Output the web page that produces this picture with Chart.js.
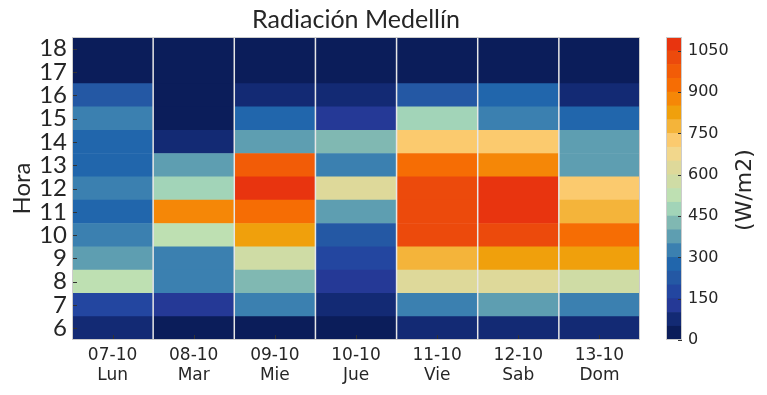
<!DOCTYPE html>
<html>
<head>
<meta charset="utf-8">
<script src="https://cdn.jsdelivr.net/npm/chart.js@4/dist/chart.umd.min.js"></script>
<style>
  body { margin: 0; background: #fff; }
  #wrap { position: relative; width: 767px; height: 395px; }
  #heat { position: absolute; left: 0; top: 0; }
  #cbar { position: absolute; left: 640px; top: 0; }
</style>
</head>
<body>
<div id="wrap">
  <canvas id="heat" width="712" height="395"></canvas>
  <canvas id="cbar" width="127" height="395"></canvas>
</div>
<script>
// hours on the y axis
var hours = [6, 7, 8, 9, 10, 11, 12, 13, 14, 15, 16, 17, 18];
// days on the x axis
var dates = ['07-10', '08-10', '09-10', '10-10', '11-10', '12-10', '13-10'];
var weekdays = ['Lun', 'Mar', 'Mie', 'Jue', 'Vie', 'Sab', 'Dom'];

// radiation (W/m2) per hour, 6h..18h
var lun = [75, 175, 525, 375, 325, 275, 325, 275, 275, 325, 225, 25, 25];
var mar = [25, 125, 325, 325, 525, 875, 475, 375, 75, 25, 25, 25, 25];
var mie = [25, 325, 425, 575, 825, 925, 1075, 975, 375, 275, 75, 25, 25];
var jue = [25, 75, 125, 175, 225, 375, 625, 325, 425, 125, 75, 25, 25];
var vie = [75, 325, 625, 775, 1025, 1025, 1025, 925, 725, 475, 225, 25, 25];
var sab = [75, 375, 625, 825, 1025, 1075, 1075, 875, 725, 325, 275, 25, 25];
var dom = [75, 325, 575, 825, 925, 775, 725, 375, 375, 275, 75, 25, 25];
var days = [lun, mar, mie, jue, vie, sab, dom];

// colorbar levels, every 50 W/m2
var levels = [0, 50, 100, 150, 200, 250, 300, 350, 400, 450, 500, 550,
              600, 650, 700, 750, 800, 850, 900, 950, 1000, 1050, 1100];
var bandColors = ['#0b1d5a', '#132a74', '#253996', '#2346a0', '#2458a4', '#2166ac',
                  '#3b80b0', '#5e9eb1', '#80b8b2', '#a2d4b8', '#bee0b2', '#cfdca5',
                  '#ded99a', '#f2d78c', '#fbca6e', '#f4b43a', '#f0a00c', '#f58707',
                  '#f66d04', '#f25c07', '#ec4a0c', '#e8340f'];
var cbTicks = [0, 150, 300, 450, 600, 750, 900, 1050];

var title = 'Radiación Medellín';
var txt = '#262626';
var lato = 'Lato, sans-serif';
var dejavu = '"DejaVu Sans", sans-serif';

function colorFor(v) {
  for (var i = levels.length - 2; i >= 0; i--) {
    if (v >= levels[i]) return bandColors[i];
  }
  return bandColors[0];
}

// separators, frame, inward tick marks and a title centred over the plot
var heatDeco = {
  id: 'heatDeco',
  afterDatasetsDraw: function(chart) {
    var c = chart.ctx, a = chart.chartArea;
    var x = chart.scales.x, y = chart.scales.y;
    c.save();
    c.strokeStyle = '#e6e6e6';
    c.lineWidth = 1.5;
    c.beginPath();
    for (var i = 1; i < dates.length; i++) {
      var gx = (x.getPixelForValue(i - 1) + x.getPixelForValue(i)) / 2;
      c.moveTo(gx, a.top);
      c.lineTo(gx, a.bottom);
    }
    c.stroke();
    c.strokeStyle = '#333';
    c.lineWidth = 1;
    c.beginPath();
    dates.forEach(function(d, i) {
      var px = Math.round(x.getPixelForValue(i)) + 0.5;
      c.moveTo(px, a.bottom);
      c.lineTo(px, a.bottom - 5);
    });
    hours.forEach(function(h) {
      var py = Math.round(y.getPixelForValue(h)) + 0.5;
      c.moveTo(a.left, py);
      c.lineTo(a.left + 5, py);
    });
    c.stroke();
    c.strokeStyle = '#cccccc';
    c.strokeRect(a.left + 0.5, a.top + 0.5, a.right - a.left - 1, a.bottom - a.top - 1);
    c.fillStyle = txt;
    c.font = '25px ' + lato;
    c.textAlign = 'center';
    c.textBaseline = 'middle';
    c.fillText(title, (a.left + a.right) / 2, 20);
    c.restore();
  }
};

var heatSets = hours.map(function(h, i) {
  return {
    label: String(h),
    data: days.map(function() { return [h - 0.5, h + 0.5]; }),
    backgroundColor: days.map(function(d) { return colorFor(d[i]); }),
    borderWidth: 0,
    grouped: false,
    barPercentage: 1,
    categoryPercentage: 1
  };
});

new Chart(document.getElementById('heat'), {
  type: 'bar',
  data: {
    labels: dates.map(function(d, i) { return [d, weekdays[i]]; }),
    datasets: heatSets
  },
  options: {
    responsive: false,
    animation: false,
    layout: { padding: { top: 37, right: 72, left: 0, bottom: 0 } },
    plugins: {
      legend: { display: false },
      tooltip: { enabled: false },
      title: { display: false }
    },
    scales: {
      x: {
        grid: { display: false, drawTicks: false },
        border: { display: false },
        ticks: { color: txt, font: { family: dejavu, size: 17, lineHeight: 1.2 }, padding: 5, maxRotation: 0 },
        afterFit: function(s) { s.height = 55; }
      },
      y: {
        min: 5.5,
        max: 18.5,
        grid: { display: false, drawTicks: false },
        border: { display: false },
        afterBuildTicks: function(s) {
          s.ticks = hours.map(function(h) { return { value: h }; });
        },
        ticks: { color: txt, font: { family: lato, size: 24, lineHeight: 1 }, padding: 5, autoSkip: false },
        title: {
          display: true,
          text: 'Hora',
          color: txt,
          font: { family: lato, size: 24 },
          padding: { top: 8, bottom: 0 }
        },
        afterFit: function(s) { s.width = 72; }
      }
    }
  },
  plugins: [heatDeco]
});

// colorbar
var cbDeco = {
  id: 'cbDeco',
  afterDraw: function(chart) {
    var c = chart.ctx, a = chart.chartArea, y = chart.scales.y;
    c.save();
    c.strokeStyle = '#333';
    c.lineWidth = 1;
    c.beginPath();
    cbTicks.forEach(function(t) {
      var py = Math.round(y.getPixelForValue(t)) + 0.5;
      c.moveTo(a.right, py);
      c.lineTo(a.right - 4, py);
    });
    c.stroke();
    c.strokeStyle = '#cccccc';
    c.strokeRect(a.left + 0.5, a.top + 0.5, a.right - a.left - 1, a.bottom - a.top - 1);
    // unit label, reading bottom to top
    c.translate(105, 190);
    c.rotate(-Math.PI / 2);
    c.fillStyle = txt;
    c.font = '22px ' + dejavu;
    c.textAlign = 'center';
    c.textBaseline = 'middle';
    c.fillText('(W/m2)', 0, 0);
    c.restore();
  }
};

var cbSets = bandColors.map(function(col, i) {
  return {
    data: [[levels[i], levels[i + 1]]],
    backgroundColor: col,
    borderWidth: 0,
    grouped: false,
    barPercentage: 1,
    categoryPercentage: 1
  };
});

new Chart(document.getElementById('cbar'), {
  type: 'bar',
  data: { labels: [''], datasets: cbSets },
  options: {
    responsive: false,
    animation: false,
    layout: { padding: { top: 37, left: 26, bottom: 55, right: 0 } },
    plugins: { legend: { display: false }, tooltip: { enabled: false } },
    scales: {
      x: { display: false },
      y: {
        position: 'right',
        min: 0,
        max: 1100,
        grid: { display: false, drawTicks: false },
        border: { display: false },
        afterBuildTicks: function(s) {
          s.ticks = cbTicks.map(function(t) { return { value: t }; });
        },
        ticks: {
          color: txt,
          font: { family: dejavu, size: 16 },
          padding: 6,
          callback: function(v) { return String(v); }
        },
        afterFit: function(s) { s.width = 85; }
      }
    }
  },
  plugins: [cbDeco]
});
</script>
</body>
</html>
